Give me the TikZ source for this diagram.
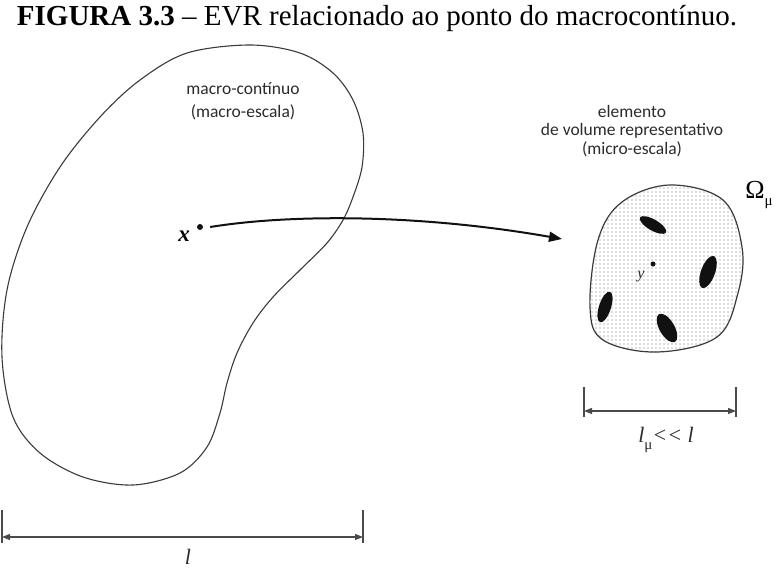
\documentclass[tikz,border=0pt]{standalone}
\usepackage{fontspec}
\setmainfont{Liberation Serif}
\newfontfamily\rotfont{Carlito}
\usetikzlibrary{arrows.meta,patterns}
\definecolor{tinta}{HTML}{111111}
\definecolor{linhacorpo}{HTML}{3A3A3A}
\definecolor{cinzacota}{HTML}{4A4A4A}
\definecolor{textorot}{HTML}{2B2B2B}
\definecolor{pontilhado}{HTML}{6A6A6A}
\pgfdeclarepatternformonly{evrpontos}{\pgfqpoint{-1pt}{-1pt}}{\pgfqpoint{1pt}{1pt}}{\pgfqpoint{4pt}{4pt}}{\pgfpathcircle{\pgfpointorigin}{0.6pt}\pgfusepath{fill}}
\newcommand{\submu}{\raisebox{-0.3em}{\fontsize{15}{16}\selectfont\upshape μ}}

\begin{document}
\begin{tikzpicture}[x=1pt,y=-1pt,
  corpo/.style={draw=linhacorpo,line width=1.1pt},
  ponto/.style={circle,fill=tinta,inner sep=0pt,minimum size=#1},
  ponto/.default=6pt,
  seta/.style={-{Triangle[length=13pt,width=10pt]},line width=2pt,draw=tinta},
  cotalinha/.style={{Triangle[length=8pt,width=6pt]}-{Triangle[length=8pt,width=6pt]},line width=1.3pt,draw=cinzacota},
  traco/.style={line width=1.3pt,draw=cinzacota},
  rotulo/.style={font=\rotfont\fontsize{17.5}{18.5}\selectfont,text=textorot,align=center,inner sep=0pt}]
  \useasboundingbox (0,0) rectangle (777,568);
  \node[anchor=base,font=\fontsize{29}{32}\selectfont] (titulo) at (377,25)
    {\textbf{FIGURA 3.3} -- EVR relacionado ao ponto do macrocontínuo.};
  % macro-continuo
  \draw[corpo] plot[smooth cycle,tension=0.55] coordinates {(187,53) (250,45) (300,53) (333,73) (353,100)
    (363,133) (362,167) (353,197) (343,220) (327,243) (300,270) (273,297) (253,323) (237,353)
    (227,383) (220,413) (207,447) (180,473) (133,485) (83,477) (40,453) (13,417) (2,357)
    (7,290) (27,227) (60,167) (100,117) (140,80)};
  \node[rotulo,font=\rotfont\fontsize{17.5}{22.5}\selectfont] (macro) at (243,101) {macro-contínuo\\(macro-escala)};
  \node[ponto] (xdot) at (200,227) {};
  \node[font=\fontsize{23}{24}\selectfont\bfseries\itshape] (xlab) at (184,236) {x};
  % elemento de volume
  \filldraw[corpo,line width=1.2pt,pattern=evrpontos,pattern color=pontilhado] plot[smooth cycle,tension=0.6] coordinates {(670,185)
    (723,200) (742,247) (738,293) (717,337) (657,352) (603,340) (590,307) (598,240) (622,202)};
  \foreach \cx/\cy/\ang/\ra/\rb in {653/225/-30/15/5.5,708/272/70/17/7,605/307/72/16/6,667/328/-60/16/7.5}
    \fill[tinta] (\cx,\cy) ellipse[x radius=\ra pt,y radius=\rb pt,rotate=\ang];
  \node[ponto=5pt] (ydot) at (653,264) {};
  \node[font=\fontsize{16}{17}\selectfont\itshape,text=textorot] (ylab) at (641,277) {y};
  \node[rotulo] (micro) at (632,131) {elemento\\de volume representativo\\(micro-escala)};
  \node[font=\fontsize{26}{28}\selectfont] (omega) at (759,195) {Ω\submu};
  \coordinate (evr) at (562,239);
  \draw[seta] ([xshift=7pt]xdot.east) .. controls (290,214) and (420,214) .. (evr);
  % cotas
  \coordinate (la) at (2,537);
  \coordinate (lb) at (363,537);
  \coordinate (ma) at (584,411);
  \coordinate (mb) at (736,411);
  \foreach \c in {la,lb} \draw[traco] (\c) ++(0,-27) -- ++(0,33);
  \foreach \c in {ma,mb} \draw[traco] (\c) ++(0,-24) -- ++(0,30);
  \draw[cotalinha] (la) -- (lb);
  \draw[cotalinha] (ma) -- (mb);
  \node[font=\fontsize{22}{24}\selectfont\itshape,text=textorot] (llab) at (188,557) {l};
  \node[font=\fontsize{22}{24}\selectfont\itshape,text=textorot] (lmulab) at (666,440) {l\submu<{}< l};
\end{tikzpicture}
\end{document}
